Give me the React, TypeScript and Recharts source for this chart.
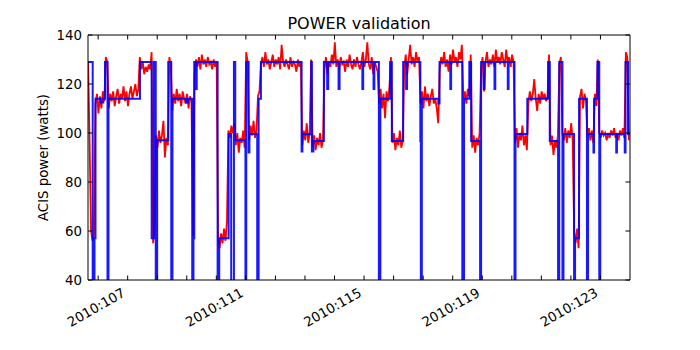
import React from 'react';
import { LineChart, Line, XAxis, YAxis } from 'recharts';

// ---- data ----
// Telemetry (red): sampled every 0.05 day starting at day 105.66 (2010 day-of-year)
const redStartDay = 105.66;
const redSampleDays = 0.05;
const redPower: number[] = [
  129, 97, 60, 56, 58,
  112, 116, 108, 115, 110, 117, 113,
  131, 129,
  110, 116, 113, 117, 111, 115, 118, 112, 116, 114, 119, 113, 117, 111, 116, 119, 114, 117, 120, 115, 118,
  131, 126, 129, 124, 127, 125, 128, 126, 133,
  55, 61,
  99, 94, 101, 96, 99, 105, 90, 98, 95,
  131, 127,
  109, 116, 112, 118, 113, 116, 111, 117, 114, 112, 116, 110, 115, 113,
  58,
  123, 130, 127, 131, 126, 132, 128, 130, 127, 131, 128, 129, 126, 130, 127, 129,
  57, 53, 59, 55, 61, 56, 64,
  101, 98, 103, 100, 104,
  95, 100, 92, 98, 96, 101, 94,
  133, 129,
  97, 103, 99, 105, 98, 101,
  115, 117, 128,
  131, 127, 133, 128, 130, 126, 129, 132, 127, 130, 128, 131, 126, 136, 129, 127, 130, 128, 126, 131, 127, 129, 128, 125, 130, 127, 129,
  95, 101, 97, 104, 96, 100,
  130,
  94, 99, 93, 98, 95, 100, 94, 97,
  126, 131, 124, 129, 127, 132, 128, 137, 127, 130, 126, 131, 128, 129, 125, 130, 127, 132, 128, 126, 130, 127, 131, 128, 126, 129, 133, 127, 130, 137, 128, 126, 131, 124, 129, 127, 125,
  112,
  118, 110, 116, 106, 117, 113, 119,
  131,
  96, 100, 93, 98, 95, 101, 94, 97,
  127, 132, 124, 130, 136, 128, 131, 127, 133, 129, 131,
  112, 117, 110, 119, 113, 116, 111, 115, 118, 112, 114, 110, 104,
  126, 131, 128, 133, 127, 130, 125, 132, 128, 134, 129, 131, 127, 133, 130, 136,
  114, 117, 112, 118, 115,
  132,
  94, 99, 92, 98, 95, 100,
  126, 131, 117, 129, 133, 127, 130, 128, 132, 127, 134, 129, 131, 128, 133, 130, 127, 134, 129, 131, 127, 132, 129,
  96, 102, 94, 100, 97, 103, 95, 99, 93,
  112, 117, 113, 116, 122, 114, 109, 116, 112, 117, 114, 116, 113, 115,
  132,
  95, 99, 91, 97, 94,
  99, 128, 131,
  100, 97, 102, 96, 101, 98, 104, 97,
  60, 55, 61, 53,
  115, 118, 110, 116, 113,
  99, 102, 97, 101, 96,
  116, 111,
  130,
  100, 98, 101, 99, 100, 97, 100, 98, 101, 99, 102, 98, 100, 97, 101, 99, 102, 98,
  133, 131, 97,
];

// Predicted power (blue): [day, watts] step changes (20 = off-scale dip)
const blueSteps: [number, number][] = [
  [105.657, 129], [105.816, 20], [105.877, 57], [105.911, 114], [106.09, 112.5], [106.175, 114],
  [106.232, 129], [106.317, 20], [106.35, 114], [107.416, 129], [107.812, 57], [107.89, 129],
  [107.95, 20], [107.998, 97], [108.373, 129], [108.475, 20], [108.515, 114], [108.972, 112.5],
  [109.04, 114], [109.185, 20], [109.226, 57], [109.253, 129], [109.304, 118], [109.337, 129],
  [110.044, 20], [110.098, 57], [110.416, 99.6], [110.504, 20], [110.596, 129], [110.64, 97],
  [110.985, 20], [111.012, 129], [111.093, 92], [111.12, 99.6], [111.384, 20], [111.431, 114],
  [111.509, 129], [112.886, 92.4], [112.913, 99.5], [113.21, 129], [113.234, 92.4], [113.285, 96.7],
  [113.64, 129], [113.752, 118], [113.786, 129], [114.137, 118], [114.171, 129], [114.942, 118],
  [114.97, 129], [115.321, 118], [115.348, 129], [115.501, 20], [115.551, 114], [115.883, 129],
  [115.94, 96.7], [116.323, 129], [116.424, 118], [116.455, 129], [116.904, 96.7], [116.921, 20],
  [116.955, 114], [117.513, 112], [117.554, 129], [117.919, 118], [117.946, 129], [118.325, 20],
  [118.383, 114], [118.562, 129], [118.623, 96.7], [118.927, 20], [118.961, 129], [119.052, 118],
  [119.079, 129], [119.414, 118], [119.441, 129], [119.864, 118], [119.891, 129], [120.091, 20],
  [120.125, 99.6], [120.524, 114], [121.228, 129], [121.285, 96.7], [121.566, 20], [121.606, 129],
  [121.714, 20], [121.748, 99.6], [122.107, 20], [122.141, 57], [122.276, 114], [122.543, 20],
  [122.58, 99.6], [122.763, 92], [122.784, 114], [122.899, 129], [122.96, 20], [122.993, 99.6],
  [123.535, 92], [123.558, 99.6], [123.822, 92], [123.849, 129], [123.934, 99.6], [124.0, 99.6],
];

const dayTicks = [106, 107, 108, 109, 110, 111, 112, 113, 114, 115, 116, 117, 118, 119, 120, 121, 122, 123];
const labelDays = [107, 111, 115, 119, 123];
const powerTicks = [40, 60, 80, 100, 120, 140];
const xDomain: [number, number] = [105.657, 124.0];
const yDomain: [number, number] = [40, 140];

const redData = redPower.map((p, i) => ({ t: redStartDay + i * redSampleDays, p }));
const blueData = blueSteps.map(([t, p]) => ({ t, p }));

const FONT = 'DejaVu Sans';
const TICK_FS = 13.33;
const TL = 4.5;

const BottomTick = (props: any) => {
  const { x, y, payload } = props;
  const lab = labelDays.includes(payload.value);
  const ax = x - 1.5;
  const ay = y + 15.4;
  return (
    <g>
      <line x1={x} y1={y} x2={x} y2={y - TL} stroke="#000" strokeWidth={1} />
      {lab && (
        <text x={ax} y={ay} textAnchor="end" transform={`rotate(-30 ${ax} ${ay})`}
          fontFamily={FONT} fontSize={TICK_FS} fill="#000">{`2010:${payload.value}`}</text>
      )}
    </g>
  );
};

const TopTick = (props: any) => {
  const { x, y } = props;
  return <line x1={x} y1={y} x2={x} y2={y + TL} stroke="#000" strokeWidth={1} />;
};

const LeftTick = (props: any) => {
  const { x, y, payload } = props;
  return (
    <g>
      <line x1={x} y1={y} x2={x + TL} y2={y} stroke="#000" strokeWidth={1} />
      <text x={x - 6} y={y + 4.9} textAnchor="end" fontFamily={FONT} fontSize={TICK_FS} fill="#000">
        {String(payload.value)}
      </text>
    </g>
  );
};

const RightTick = (props: any) => {
  const { x, y } = props;
  return <line x1={x} y1={y} x2={x - TL} y2={y} stroke="#000" strokeWidth={1} />;
};

export default function App() {
  return (
    <div style={{ position: 'relative', width: 700, height: 350, background: '#fff' }}>
      <LineChart width={700} height={350} margin={{ top: 0, right: 0, bottom: 0, left: 0 }}>
        <XAxis xAxisId={0} type="number" dataKey="t" domain={xDomain} allowDataOverflow ticks={dayTicks}
          interval={0} height={78} tickSize={0} tickMargin={0} tick={<BottomTick />} tickLine={false}
          axisLine={{ stroke: '#000', strokeWidth: 1 }} />
        <XAxis xAxisId="top" orientation="top" type="number" dataKey="t" domain={xDomain} allowDataOverflow
          ticks={dayTicks} interval={0} height={27} tickSize={0} tickMargin={0} tick={<TopTick />} tickLine={false}
          axisLine={{ stroke: '#000', strokeWidth: 1 }} />
        <YAxis yAxisId={0} type="number" domain={yDomain} allowDataOverflow ticks={powerTicks} interval={0}
          width={80} tickSize={0} tickMargin={0} tick={<LeftTick />} tickLine={false}
          axisLine={{ stroke: '#000', strokeWidth: 1 }} />
        <YAxis yAxisId="right" orientation="right" type="number" domain={yDomain} allowDataOverflow
          ticks={powerTicks} interval={0} width={78} tickSize={0} tickMargin={0} tick={<RightTick />} tickLine={false}
          axisLine={{ stroke: '#000', strokeWidth: 1 }} />
        <Line data={redData} dataKey="p" type="linear" stroke="#ff0000" strokeWidth={1.8} dot={false}
          strokeLinejoin="miter" isAnimationActive={false} />
        <Line data={blueData} dataKey="p" type="stepAfter" stroke="#0000ff" strokeWidth={2} dot={false}
          strokeOpacity={0.9} isAnimationActive={false} />
      </LineChart>
      <svg width={700} height={350} style={{ position: 'absolute', left: 0, top: 0, pointerEvents: 'none' }}>
        <text x={351} y={21} textAnchor="middle" fontFamily={FONT} fontSize={16} fill="#000">POWER validation</text>
        <text x={39.5} y={149.5} textAnchor="middle" transform="rotate(-90 39.5 149.5)" fontFamily={FONT}
          fontSize={TICK_FS} fill="#000">ACIS power (watts)</text>
      </svg>
    </div>
  );
}
